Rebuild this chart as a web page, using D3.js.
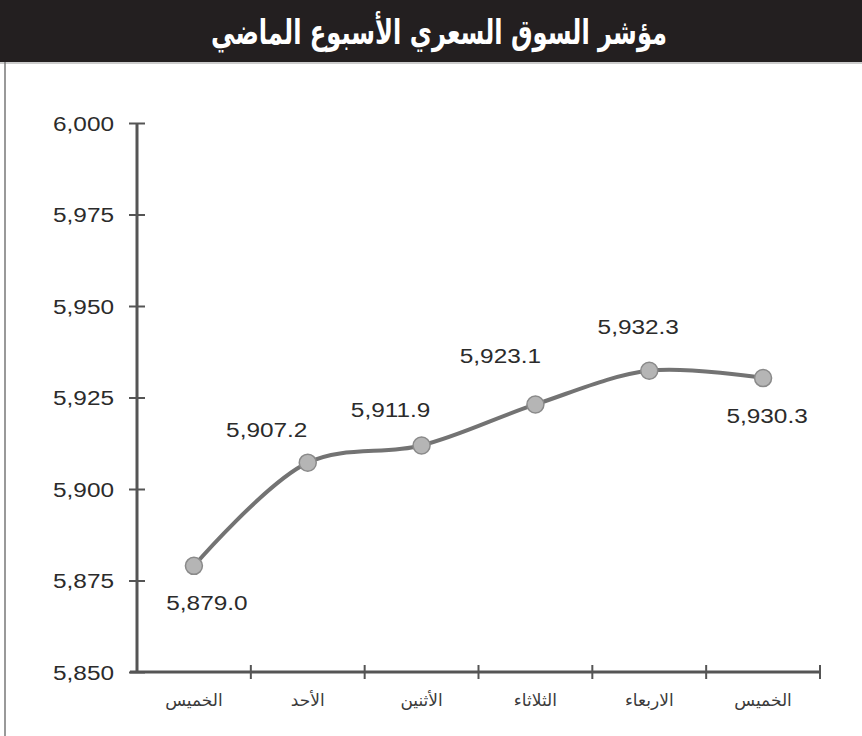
<!DOCTYPE html>
<html>
<head>
<meta charset="utf-8">
<script src="https://cdn.jsdelivr.net/npm/d3@7"></script>
<style>
  body { margin: 0; background: #fff; }
  svg { display: block; }
</style>
</head>
<body>
<div id="chart"></div>
<script>
// chart data
const title = "مؤشر السوق السعري الأسبوع الماضي";
const days = ["الخميس", "الأحد", "الأثنين", "الثلاثاء", "الاربعاء", "الخميس"];
const values = [5879.0, 5907.2, 5911.9, 5923.1, 5932.3, 5930.3];
const yTicks = [5850, 5875, 5900, 5925, 5950, 5975, 6000];

const W = 862, H = 736;
const numFont = "'Liberation Sans', Arial, sans-serif";

const svg = d3.select("#chart")
  .append("svg")
  .attr("width", W)
  .attr("height", H);

// header bar
svg.append("rect")
  .attr("x", 0).attr("y", 0)
  .attr("width", W).attr("height", 62)
  .attr("fill", "#231f20");
svg.append("line")
  .attr("x1", 0).attr("x2", W)
  .attr("y1", 63).attr("y2", 63)
  .attr("stroke", "#bbb").attr("stroke-width", 1.5);
svg.append("text")
  .attr("x", 439)
  .attr("y", 44)
  .attr("text-anchor", "middle")
  .attr("direction", "rtl")
  .attr("fill", "#fff")
  .style("font-family", "'DejaVu Sans', sans-serif")
  .style("font-weight", "bold")
  .style("font-size", "34px")
  .attr("textLength", 456)
  .attr("lengthAdjust", "spacingAndGlyphs")
  .text(title);

// left frame line
svg.append("line")
  .attr("x1", 5).attr("x2", 5)
  .attr("y1", 62).attr("y2", H)
  .attr("stroke", "#777").attr("stroke-width", 1.5);

// scales
const x = d3.scaleBand()
  .domain(d3.range(days.length))
  .range([137, 820])
  .padding(0);
const y = d3.scaleLinear()
  .domain([5850, 6000])
  .range([672, 123]);

const axisColor = "#555";

// y axis
const yAxis = svg.append("g")
  .attr("transform", "translate(137,0)")
  .call(d3.axisLeft(y).tickValues(yTicks).tickSize(0).tickFormat(""));
yAxis.select(".domain").remove();
yAxis.selectAll(".tick").append("line")
  .attr("x1", -8).attr("x2", 8)
  .attr("stroke", axisColor).attr("stroke-width", 2);
// tick labels (the printed numbers are horizontally stretched)
yAxis.selectAll(".tick").append("text")
  .attr("transform", "translate(-23,7) scale(1.25,1)")
  .attr("text-anchor", "end")
  .attr("fill", "#2b2b2b")
  .style("font-family", numFont)
  .style("font-size", "19.5px")
  .text(d => d3.format(",")(d));
svg.append("line")
  .attr("x1", 137).attr("x2", 137)
  .attr("y1", 123).attr("y2", 673)
  .attr("stroke", axisColor).attr("stroke-width", 3);

// x axis
svg.append("line")
  .attr("x1", 130).attr("x2", 820)
  .attr("y1", 672).attr("y2", 672)
  .attr("stroke", axisColor).attr("stroke-width", 3);
svg.selectAll(".xtick")
  .data(d3.range(days.length))
  .join("line")
  .attr("class", "xtick")
  .attr("x1", d => x(d) + x.bandwidth())
  .attr("x2", d => x(d) + x.bandwidth())
  .attr("y1", 665).attr("y2", 679)
  .attr("stroke", axisColor).attr("stroke-width", 2);
svg.selectAll(".xlabel")
  .data(days)
  .join("text")
  .attr("class", "xlabel")
  .attr("x", (d, i) => x(i) + x.bandwidth() / 2)
  .attr("y", 706)
  .attr("text-anchor", "middle")
  .attr("direction", "rtl")
  .attr("fill", "#3a3a3a")
  .style("font-family", "'DejaVu Sans', sans-serif")
  .style("font-size", "17px")
  .text(d => d);

// line
const cx = i => x(i) + x.bandwidth() / 2;
const line = d3.line()
  .x((d, i) => cx(i))
  .y(d => y(d))
  .curve(d3.curveCatmullRom.alpha(0.5));
svg.append("path")
  .datum(values)
  .attr("d", line)
  .attr("fill", "none")
  .attr("stroke", "#737373")
  .attr("stroke-width", 4);

svg.selectAll(".pt")
  .data(values)
  .join("circle")
  .attr("class", "pt")
  .attr("cx", (d, i) => cx(i))
  .attr("cy", d => y(d))
  .attr("r", 8.5)
  .attr("fill", "#b5b5b5")
  .attr("stroke", "#8a8a8a")
  .attr("stroke-width", 1.5);

// value labels, placed around each point
const labelPos = [[13, 44], [-41, -26], [-31, -28], [-35, -41], [-11, -37], [4, 45]];
svg.selectAll(".vlabel")
  .data(values)
  .join("text")
  .attr("class", "vlabel")
  .attr("transform", (d, i) =>
    `translate(${cx(i) + labelPos[i][0]},${y(d) + labelPos[i][1]}) scale(1.25,1)`)
  .attr("text-anchor", "middle")
  .attr("fill", "#2b2b2b")
  .style("font-family", numFont)
  .style("font-size", "19.5px")
  .text(d => d3.format(",.1f")(d));
</script>
</body>
</html>
